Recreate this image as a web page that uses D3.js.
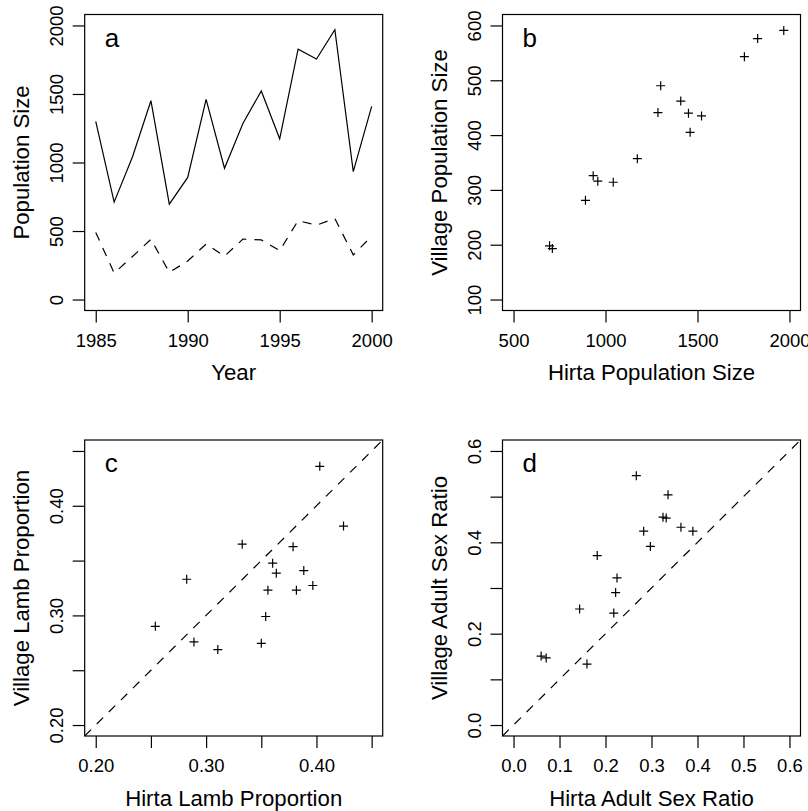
<!DOCTYPE html>
<html>
<head>
<meta charset="utf-8">
<script src="https://cdn.jsdelivr.net/npm/d3@7"></script>
<style>
  html, body { margin: 0; padding: 0; background: #fff; }
  svg text { font-family: "Liberation Sans", Arial, Helvetica, sans-serif; fill: #000; }
</style>
</head>
<body>
<svg id="chart" width="808" height="811"></svg>
<script>
// ---- Data ----
const years = [1985,1986,1987,1988,1989,1990,1991,1992,1993,1994,1995,1996,1997,1998,1999,2000];
const hirtaPop = [1300,711,1042,1451,696,891,1460,958,1285,1522,1173,1827,1755,1969,933,1409];
const villagePop = [490,193,314,440,198,281,405,316,441,435,357,576,543,591,326,462];

const hirtaLamb   = [0.403,0.4245,0.3327,0.3788,0.3603,0.3636,0.3885,0.2824,0.356,0.3818,0.3967,0.354,0.254,0.289,0.350,0.3106];
const villageLamb = [0.436,0.3815,0.365,0.3627,0.3476,0.3385,0.3409,0.333,0.323,0.323,0.3273,0.299,0.290,0.2758,0.2745,0.2688];

const hirtaSex   = [0.267,0.336,0.325,0.332,0.364,0.390,0.283,0.2975,0.182,0.225,0.222,0.218,0.1437,0.060,0.071,0.1597];
const villageSex = [0.546,0.504,0.455,0.453,0.433,0.4245,0.4245,0.391,0.371,0.322,0.290,0.245,0.254,0.151,0.147,0.1335];

// tick values / labels
const aXTicks = [1985,1990,1995,2000];
const aYTicks = [0,500,1000,1500,2000];
const bXTicks = [500,1000,1500,2000];
const bYTicks = [100,200,300,400,500,600];
const cTicks = [0.20,0.25,0.30,0.35,0.40,0.45];
const cTickLabels = ["0.20","","0.30","","0.40",""];
const dTicks = [0.0,0.1,0.2,0.3,0.4,0.5,0.6];
const dXTickLabels = ["0.0","0.1","0.2","0.3","0.4","0.5","0.6"];
const dYTickLabels = ["0.0","","0.2","","0.4","","0.6"];

// ---- Layout ----
const svg = d3.select("#chart");
const TICK_FS = 18.5, TITLE_FS = 22.2, LETTER_FS = 26;
const LW = 1.2;

function ext(a, b) { const r = (b - a) * 0.04; return [a - r, b + r]; }

function panel(opts) {
  const {x0, x1, y0, y1, xDom, yDom, xTicks, xLabels, yTicks, yLabels, xTitle, yTitle, letter, id} = opts;
  const g = svg.append("g");
  const x = d3.scaleLinear().domain(xDom).range([x0, x1]);
  const y = d3.scaleLinear().domain(yDom).range([y1, y0]);

  g.append("clipPath").attr("id", "clip" + id)
    .append("rect").attr("x", x0).attr("y", y0).attr("width", x1 - x0).attr("height", y1 - y0);

  // x axis
  const xa = g.append("g").attr("transform", `translate(0,${y1})`)
    .call(d3.axisBottom(x).tickValues(xTicks).tickSize(12).tickPadding(11)
      .tickFormat((d, i) => xLabels[i]));
  xa.select(".domain").remove();
  xa.selectAll("line").attr("stroke", "#000").attr("stroke-width", LW);
  xa.selectAll("text").style("font-size", TICK_FS + "px").attr("fill", "#000")
    .style("font-family", '"Liberation Sans", Arial, sans-serif');

  // y axis
  const ya = g.append("g").attr("transform", `translate(${x0},0)`)
    .call(d3.axisLeft(y).tickValues(yTicks).tickSize(12)
      .tickFormat((d, i) => yLabels[i]));
  ya.select(".domain").remove();
  ya.selectAll("line").attr("stroke", "#000").attr("stroke-width", LW);
  ya.selectAll("text")
    .attr("transform", "rotate(-90)")
    .attr("x", 0).attr("y", -22).attr("dy", null)
    .attr("text-anchor", "middle")
    .style("font-size", TICK_FS + "px").attr("fill", "#000")
    .style("font-family", '"Liberation Sans", Arial, sans-serif');

  // box
  g.append("rect").attr("x", x0).attr("y", y0).attr("width", x1 - x0).attr("height", y1 - y0)
    .attr("fill", "none").attr("stroke", "#000").attr("stroke-width", LW);

  // titles
  g.append("text").attr("x", (x0 + x1) / 2).attr("y", y1 + 69.5)
    .attr("text-anchor", "middle").style("font-size", TITLE_FS + "px").text(xTitle);
  g.append("text")
    .attr("transform", `translate(${x0 - 56},${(y0 + y1) / 2}) rotate(-90)`)
    .attr("text-anchor", "middle").style("font-size", TITLE_FS + "px").text(yTitle);

  // letter
  g.append("text").attr("x", x0 + 20).attr("y", y0 + 32)
    .style("font-size", LETTER_FS + "px").text(letter);

  const plot = g.append("g").attr("clip-path", `url(#clip${id})`);
  return {x, y, plot};
}

function pluses(p, xs, ys) {
  const s = 4.5;
  const pts = xs.map((v, i) => [p.x(v), p.y(ys[i])]);
  p.plot.selectAll("path.pl").data(pts).enter().append("path")
    .attr("class", "pl")
    .attr("d", d => `M${d[0] - s},${d[1]}H${d[0] + s}M${d[0]},${d[1] - s}V${d[1] + s}`)
    .attr("stroke", "#000").attr("stroke-width", LW).attr("fill", "none");
}

function diag(p, dom) {
  p.plot.append("line")
    .attr("x1", p.x(dom[0])).attr("y1", p.y(dom[0]))
    .attr("x2", p.x(dom[1])).attr("y2", p.y(dom[1]))
    .attr("stroke", "#000").attr("stroke-width", LW).attr("stroke-dasharray", "9,8");
}

const L0 = 84.7, L1 = 382.7, R0 = 502.5, R1 = 800.5;
const T0 = 14.5, T1 = 310.5, B0 = 440, B1 = 736;

// Panel a
const pa = panel({id: "a", x0: L0, x1: L1, y0: T0, y1: T1,
  xDom: ext(1985, 2000), yDom: ext(0, 2000),
  xTicks: aXTicks, xLabels: aXTicks.map(String),
  yTicks: aYTicks, yLabels: aYTicks.map(String),
  xTitle: "Year", yTitle: "Population Size", letter: "a"});
const line = d3.line().x((d, i) => pa.x(years[i])).y(d => pa.y(d));
pa.plot.append("path").attr("d", line(hirtaPop)).attr("fill", "none")
  .attr("stroke", "#000").attr("stroke-width", LW).attr("stroke-linejoin", "miter");
pa.plot.append("path").attr("d", line(villagePop)).attr("fill", "none")
  .attr("stroke", "#000").attr("stroke-width", LW).attr("stroke-dasharray", "9,8");

// Panel b
const pb = panel({id: "b", x0: R0, x1: R1, y0: T0, y1: T1,
  xDom: ext(500, 2000), yDom: ext(100, 600),
  xTicks: bXTicks, xLabels: bXTicks.map(String),
  yTicks: bYTicks, yLabels: bYTicks.map(String),
  xTitle: "Hirta Population Size", yTitle: "Village Population Size", letter: "b"});
pluses(pb, hirtaPop, villagePop);

// Panel c
const cDom = ext(0.20, 0.45);
const pc = panel({id: "c", x0: L0, x1: L1, y0: B0, y1: B1,
  xDom: cDom, yDom: cDom,
  xTicks: cTicks, xLabels: cTickLabels,
  yTicks: cTicks, yLabels: cTickLabels,
  xTitle: "Hirta Lamb Proportion", yTitle: "Village Lamb Proportion", letter: "c"});
diag(pc, cDom);
pluses(pc, hirtaLamb, villageLamb);

// Panel d
const dDom = ext(0.0, 0.6);
const pd = panel({id: "d", x0: R0, x1: R1, y0: B0, y1: B1,
  xDom: dDom, yDom: dDom,
  xTicks: dTicks, xLabels: dXTickLabels,
  yTicks: dTicks, yLabels: dYTickLabels,
  xTitle: "Hirta Adult Sex Ratio", yTitle: "Village Adult Sex Ratio", letter: "d"});
diag(pd, dDom);
pluses(pd, hirtaSex, villageSex);
</script>
</body>
</html>
